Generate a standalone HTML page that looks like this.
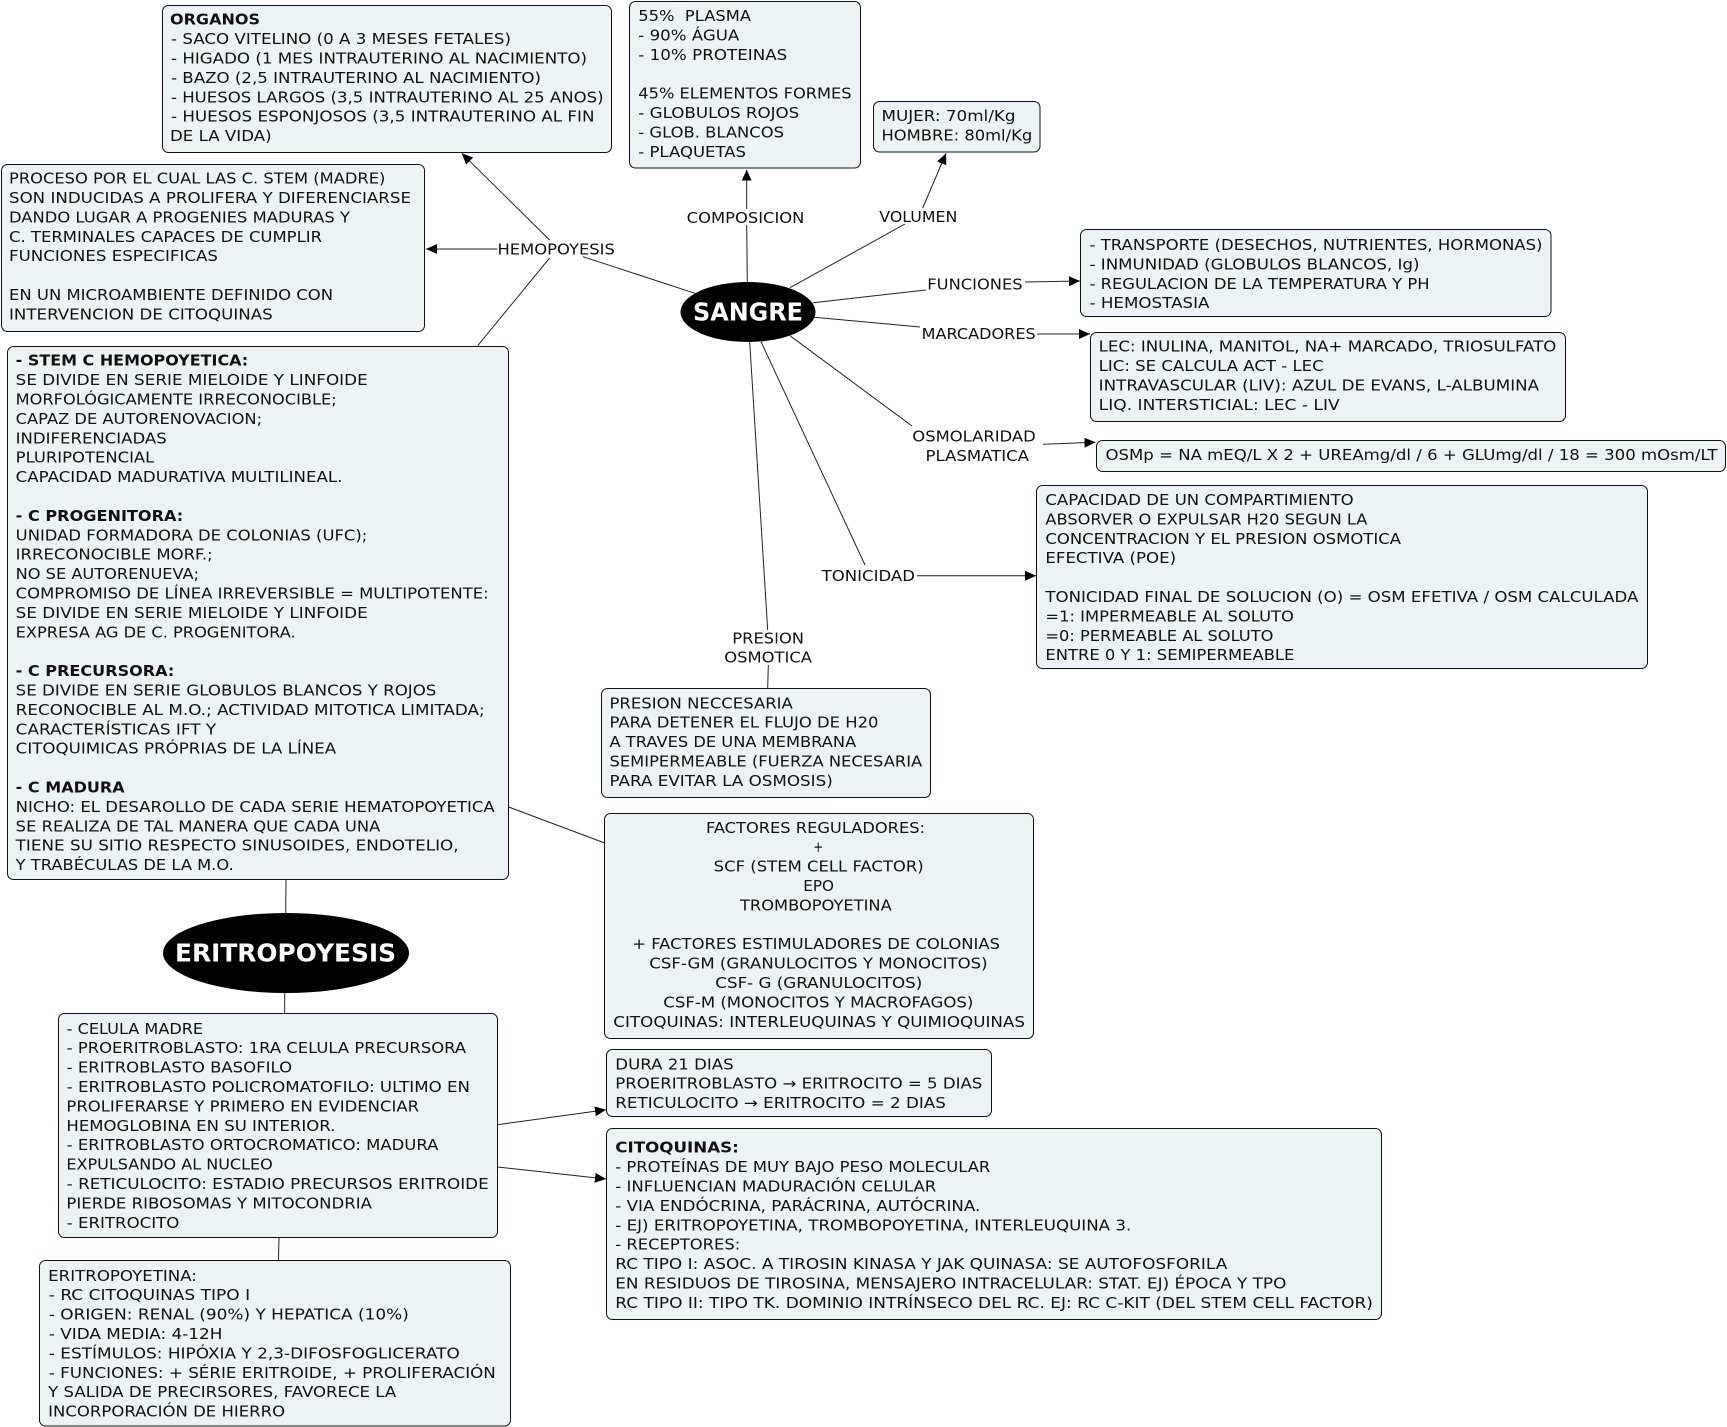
<!DOCTYPE html>
<html><head><meta charset="utf-8"><style>
html,body{margin:0;padding:0;background:#fff;width:1727px;height:1427px;overflow:hidden}
svg{display:block}
text{font-family:"DejaVu Sans",sans-serif;font-size:14.67px;fill:#111;white-space:pre}
.b{font-weight:bold}
.box{fill:#ecf3f5;stroke:#111;stroke-width:1}
.l{stroke:#222;stroke-width:1;fill:none}
.a{stroke:#222;stroke-width:1;fill:none;marker-end:url(#m)}
.t{font-weight:bold;fill:#fff;font-size:25px}
</style></head><body>
<svg width="1727" height="1427" viewBox="0 0 1727 1427" xmlns="http://www.w3.org/2000/svg" lengthAdjust="spacingAndGlyphs">
<defs><marker id="m" markerUnits="userSpaceOnUse" markerWidth="12" markerHeight="12" refX="11" refY="5.5" orient="auto"><path d="M0 0.5L11 5.5L0 10.5z" fill="#000"/></marker></defs>

<line class="l" x1="695" y1="293.3" x2="583" y2="256.7"/>
<line class="a" x1="497.4" y1="249" x2="426" y2="249"/>
<line class="a" x1="549.6" y1="240" x2="461.8" y2="153.3"/>
<line class="l" x1="549.6" y1="258" x2="477.7" y2="345.7"/>
<line class="l" x1="747.3" y1="282" x2="746.7" y2="225"/>
<line class="a" x1="746.7" y1="209" x2="746.7" y2="169.7"/>
<line class="l" x1="790" y1="287.7" x2="905" y2="224"/>
<line class="a" x1="922.7" y1="208" x2="946" y2="153.3"/>
<line class="l" x1="813.3" y1="302.7" x2="926" y2="290"/>
<line class="a" x1="1025" y1="282" x2="1080" y2="281"/>
<line class="l" x1="814.3" y1="317.3" x2="920" y2="327"/>
<line class="a" x1="1037" y1="334" x2="1090" y2="334"/>
<line class="l" x1="790" y1="335.7" x2="912" y2="426"/>
<line class="a" x1="1043" y1="444.3" x2="1095.5" y2="442.3"/>
<line class="l" x1="761" y1="341.7" x2="865" y2="565"/>
<line class="a" x1="917" y1="575.7" x2="1036" y2="575.7"/>
<line class="l" x1="749.7" y1="342" x2="767.7" y2="630"/>
<line class="l" x1="768.3" y1="665" x2="767.7" y2="688"/>
<line class="l" x1="508.7" y1="807" x2="604.7" y2="843"/>
<line class="l" x1="286" y1="880" x2="285.7" y2="913"/>
<line class="l" x1="284.7" y1="993" x2="284.7" y2="1014"/>
<line class="l" x1="279" y1="1238" x2="278.4" y2="1262"/>
<line class="a" x1="497.4" y1="1124.7" x2="606" y2="1109.8"/>
<line class="a" x1="497.4" y1="1167" x2="606" y2="1179"/>

<ellipse cx="748" cy="312" rx="67.5" ry="30" fill="#000"/>
<text class="t" x="693" y="320.7" textLength="110" lengthAdjust="spacingAndGlyphs">SANGRE</text>
<ellipse cx="286" cy="953" rx="123" ry="40" fill="#000"/>
<text class="t" x="175" y="961.7" textLength="221" lengthAdjust="spacingAndGlyphs">ERITROPOYESIS</text>

<rect class="box" x="162.5" y="5.5" width="449" height="147" rx="6"/>
<text class="b" x="170" y="24.7" textLength="90" lengthAdjust="spacingAndGlyphs">ORGANOS</text>
<text x="171" y="44.1" textLength="340" lengthAdjust="spacingAndGlyphs">- SACO VITELINO (0 A 3 MESES FETALES)</text>
<text x="171" y="63.5" textLength="416" lengthAdjust="spacingAndGlyphs">- HIGADO (1 MES INTRAUTERINO AL NACIMIENTO)</text>
<text x="171" y="82.9" textLength="370" lengthAdjust="spacingAndGlyphs">- BAZO (2,5 INTRAUTERINO AL NACIMIENTO)</text>
<text x="171" y="102.3" textLength="432.6" lengthAdjust="spacingAndGlyphs">- HUESOS LARGOS (3,5 INTRAUTERINO AL 25 ANOS)</text>
<text x="171" y="121.7" textLength="423.5" lengthAdjust="spacingAndGlyphs">- HUESOS ESPONJOSOS (3,5 INTRAUTERINO AL FIN</text>
<text x="170" y="141.1" textLength="101.6" lengthAdjust="spacingAndGlyphs">DE LA VIDA)</text>

<rect class="box" x="1.5" y="164.5" width="423" height="167" rx="6"/>
<text x="9" y="183.6" textLength="376.4" lengthAdjust="spacingAndGlyphs">PROCESO POR EL CUAL LAS C. STEM (MADRE)</text>
<text x="9" y="203" textLength="402" lengthAdjust="spacingAndGlyphs">SON INDUCIDAS A PROLIFERA Y DIFERENCIARSE</text>
<text x="9" y="222.4" textLength="341" lengthAdjust="spacingAndGlyphs">DANDO LUGAR A PROGENIES MADURAS Y</text>
<text x="9" y="241.8" textLength="313" lengthAdjust="spacingAndGlyphs">C. TERMINALES CAPACES DE CUMPLIR</text>
<text x="9" y="261.2" textLength="209" lengthAdjust="spacingAndGlyphs">FUNCIONES ESPECIFICAS</text>
<text x="9" y="300" textLength="324" lengthAdjust="spacingAndGlyphs">EN UN MICROAMBIENTE DEFINIDO CON</text>
<text x="9" y="319.4" textLength="263.7" lengthAdjust="spacingAndGlyphs">INTERVENCION DE CITOQUINAS</text>

<rect class="box" x="7.5" y="346.5" width="501" height="533" rx="6"/>
<text class="b" x="15.7" y="365.7" textLength="232.5" lengthAdjust="spacingAndGlyphs">- STEM C HEMOPOYETICA:</text>
<text x="15.7" y="385.1" textLength="352" lengthAdjust="spacingAndGlyphs">SE DIVIDE EN SERIE MIELOIDE Y LINFOIDE</text>
<text x="15.7" y="404.5" textLength="321" lengthAdjust="spacingAndGlyphs">MORFOLÓGICAMENTE IRRECONOCIBLE;</text>
<text x="15.7" y="423.9" textLength="246.4" lengthAdjust="spacingAndGlyphs">CAPAZ DE AUTORENOVACION;</text>
<text x="15.7" y="443.3" textLength="151" lengthAdjust="spacingAndGlyphs">INDIFERENCIADAS</text>
<text x="15.7" y="462.7" textLength="138.6" lengthAdjust="spacingAndGlyphs">PLURIPOTENCIAL</text>
<text x="15.7" y="482.1" textLength="326.7" lengthAdjust="spacingAndGlyphs">CAPACIDAD MADURATIVA MULTILINEAL.</text>
<text class="b" x="15.7" y="520.9" textLength="167.5" lengthAdjust="spacingAndGlyphs">- C PROGENITORA:</text>
<text x="15.7" y="540.3" textLength="351.6" lengthAdjust="spacingAndGlyphs">UNIDAD FORMADORA DE COLONIAS (UFC);</text>
<text x="15.7" y="559.7" textLength="197" lengthAdjust="spacingAndGlyphs">IRRECONOCIBLE MORF.;</text>
<text x="15.7" y="579.1" textLength="183.4" lengthAdjust="spacingAndGlyphs">NO SE AUTORENUEVA;</text>
<text x="15.7" y="598.5" textLength="473" lengthAdjust="spacingAndGlyphs">COMPROMISO DE LÍNEA IRREVERSIBLE = MULTIPOTENTE:</text>
<text x="15.7" y="617.9" textLength="352" lengthAdjust="spacingAndGlyphs">SE DIVIDE EN SERIE MIELOIDE Y LINFOIDE</text>
<text x="15.7" y="637.3" textLength="280" lengthAdjust="spacingAndGlyphs">EXPRESA AG DE C. PROGENITORA.</text>
<text class="b" x="15.7" y="676.1" textLength="158.6" lengthAdjust="spacingAndGlyphs">- C PRECURSORA:</text>
<text x="15.7" y="695.5" textLength="420.7" lengthAdjust="spacingAndGlyphs">SE DIVIDE EN SERIE GLOBULOS BLANCOS Y ROJOS</text>
<text x="15.7" y="714.9" textLength="469" lengthAdjust="spacingAndGlyphs">RECONOCIBLE AL M.O.; ACTIVIDAD MITOTICA LIMITADA;</text>
<text x="15.7" y="734.3" textLength="200.5" lengthAdjust="spacingAndGlyphs">CARACTERÍSTICAS IFT Y</text>
<text x="15.7" y="753.7" textLength="320.5" lengthAdjust="spacingAndGlyphs">CITOQUIMICAS PRÓPRIAS DE LA LÍNEA</text>
<text class="b" x="15.7" y="792.5" textLength="109" lengthAdjust="spacingAndGlyphs">- C MADURA</text>
<text x="15.7" y="811.9" textLength="479" lengthAdjust="spacingAndGlyphs">NICHO: EL DESAROLLO DE CADA SERIE HEMATOPOYETICA</text>
<text x="15.7" y="831.3" textLength="364.6" lengthAdjust="spacingAndGlyphs">SE REALIZA DE TAL MANERA QUE CADA UNA</text>
<text x="15.7" y="850.7" textLength="442.9" lengthAdjust="spacingAndGlyphs">TIENE SU SITIO RESPECTO SINUSOIDES, ENDOTELIO,</text>
<text x="15.7" y="870.1" textLength="218" lengthAdjust="spacingAndGlyphs">Y TRABÉCULAS DE LA M.O.</text>

<rect class="box" x="629.5" y="1.5" width="231" height="166.5" rx="6"/>
<text x="638.3" y="21" textLength="112.7" lengthAdjust="spacingAndGlyphs">55%  PLASMA</text>
<text x="638.3" y="40.4" textLength="101" lengthAdjust="spacingAndGlyphs">- 90% ÁGUA</text>
<text x="638.3" y="59.8" textLength="149" lengthAdjust="spacingAndGlyphs">- 10% PROTEINAS</text>
<text x="638.3" y="98.6" textLength="213.3" lengthAdjust="spacingAndGlyphs">45% ELEMENTOS FORMES</text>
<text x="638.3" y="118" textLength="161" lengthAdjust="spacingAndGlyphs">- GLOBULOS ROJOS</text>
<text x="638.3" y="137.4" textLength="145.7" lengthAdjust="spacingAndGlyphs">- GLOB. BLANCOS</text>
<text x="638.3" y="156.8" textLength="107.7" lengthAdjust="spacingAndGlyphs">- PLAQUETAS</text>

<rect class="box" x="873.5" y="101.5" width="166.5" height="50.5" rx="6"/>
<text x="881.5" y="121.1" textLength="134" lengthAdjust="spacingAndGlyphs">MUJER: 70ml/Kg</text>
<text x="881.5" y="140.5" textLength="150.7" lengthAdjust="spacingAndGlyphs">HOMBRE: 80ml/Kg</text>

<rect class="box" x="1080.5" y="229.5" width="470.5" height="87" rx="6"/>
<text x="1089.5" y="250" textLength="453" lengthAdjust="spacingAndGlyphs">- TRANSPORTE (DESECHOS, NUTRIENTES, HORMONAS)</text>
<text x="1089.5" y="269.4" textLength="330" lengthAdjust="spacingAndGlyphs">- INMUNIDAD (GLOBULOS BLANCOS, Ig)</text>
<text x="1089.5" y="288.8" textLength="340" lengthAdjust="spacingAndGlyphs">- REGULACION DE LA TEMPERATURA Y PH</text>
<text x="1089.5" y="308.2" textLength="120" lengthAdjust="spacingAndGlyphs">- HEMOSTASIA</text>

<rect class="box" x="1090.5" y="332.5" width="475" height="89" rx="6"/>
<text x="1098.7" y="351.7" textLength="457.6" lengthAdjust="spacingAndGlyphs">LEC: INULINA, MANITOL, NA+ MARCADO, TRIOSULFATO</text>
<text x="1098.7" y="371.1" textLength="225" lengthAdjust="spacingAndGlyphs">LIC: SE CALCULA ACT - LEC</text>
<text x="1098.7" y="390.5" textLength="440.4" lengthAdjust="spacingAndGlyphs">INTRAVASCULAR (LIV): AZUL DE EVANS, L-ALBUMINA</text>
<text x="1098.7" y="409.9" textLength="241" lengthAdjust="spacingAndGlyphs">LIQ. INTERSTICIAL: LEC - LIV</text>

<rect class="box" x="1096.5" y="440.5" width="629" height="31" rx="6"/>
<text x="1105.5" y="460" textLength="612" lengthAdjust="spacingAndGlyphs">OSMp = NA mEQ/L X 2 + UREAmg/dl / 6 + GLUmg/dl / 18 = 300 mOsm/LT</text>

<rect class="box" x="1036.5" y="485.5" width="611" height="183" rx="6"/>
<text x="1045.4" y="505" textLength="308.3" lengthAdjust="spacingAndGlyphs">CAPACIDAD DE UN COMPARTIMIENTO</text>
<text x="1045.4" y="524.4" textLength="322" lengthAdjust="spacingAndGlyphs">ABSORVER O EXPULSAR H20 SEGUN LA</text>
<text x="1045.4" y="543.8" textLength="355.6" lengthAdjust="spacingAndGlyphs">CONCENTRACION Y EL PRESION OSMOTICA</text>
<text x="1045.4" y="563.2" textLength="130.7" lengthAdjust="spacingAndGlyphs">EFECTIVA (POE)</text>
<text x="1045.4" y="602" textLength="593" lengthAdjust="spacingAndGlyphs">TONICIDAD FINAL DE SOLUCION (O) = OSM EFETIVA / OSM CALCULADA</text>
<text x="1045.4" y="621.4" textLength="248.5" lengthAdjust="spacingAndGlyphs">=1: IMPERMEABLE AL SOLUTO</text>
<text x="1045.4" y="640.8" textLength="228" lengthAdjust="spacingAndGlyphs">=0: PERMEABLE AL SOLUTO</text>
<text x="1045.4" y="660.2" textLength="249" lengthAdjust="spacingAndGlyphs">ENTRE 0 Y 1: SEMIPERMEABLE</text>

<rect class="box" x="601.5" y="688.5" width="329" height="109" rx="6"/>
<text x="609.5" y="708.3" textLength="183.3" lengthAdjust="spacingAndGlyphs">PRESION NECCESARIA</text>
<text x="609.5" y="727.7" textLength="269" lengthAdjust="spacingAndGlyphs">PARA DETENER EL FLUJO DE H20</text>
<text x="609.5" y="747.1" textLength="246.7" lengthAdjust="spacingAndGlyphs">A TRAVES DE UNA MEMBRANA</text>
<text x="609.5" y="766.5" textLength="312.7" lengthAdjust="spacingAndGlyphs">SEMIPERMEABLE (FUERZA NECESARIA</text>
<text x="609.5" y="785.9" textLength="223.3" lengthAdjust="spacingAndGlyphs">PARA EVITAR LA OSMOSIS)</text>

<rect class="box" x="604.5" y="813.5" width="429" height="225" rx="6"/>
<text x="706" y="832.8" textLength="219" lengthAdjust="spacingAndGlyphs">FACTORES REGULADORES:</text>
<text x="813.3" y="852.2" textLength="10" lengthAdjust="spacingAndGlyphs">+</text>
<text x="713.7" y="871.6" textLength="210" lengthAdjust="spacingAndGlyphs">SCF (STEM CELL FACTOR)</text>
<text x="803.3" y="891" textLength="30.7" lengthAdjust="spacingAndGlyphs">EPO</text>
<text x="740" y="910.4" textLength="151.7" lengthAdjust="spacingAndGlyphs">TROMBOPOYETINA</text>
<text x="632.3" y="949.2" textLength="367.7" lengthAdjust="spacingAndGlyphs">+ FACTORES ESTIMULADORES DE COLONIAS</text>
<text x="649.3" y="968.6" textLength="338.3" lengthAdjust="spacingAndGlyphs">CSF-GM (GRANULOCITOS Y MONOCITOS)</text>
<text x="715.3" y="988" textLength="207" lengthAdjust="spacingAndGlyphs">CSF- G (GRANULOCITOS)</text>
<text x="663.3" y="1007.4" textLength="310" lengthAdjust="spacingAndGlyphs">CSF-M (MONOCITOS Y MACROFAGOS)</text>
<text x="613.3" y="1026.8" textLength="411.7" lengthAdjust="spacingAndGlyphs">CITOQUINAS: INTERLEUQUINAS Y QUIMIOQUINAS</text>

<rect class="box" x="606.5" y="1049.5" width="385" height="67" rx="6"/>
<text x="615.3" y="1069.3" textLength="118.4" lengthAdjust="spacingAndGlyphs">DURA 21 DIAS</text>
<text x="615.3" y="1088.7" textLength="367" lengthAdjust="spacingAndGlyphs">PROERITROBLASTO → ERITROCITO = 5 DIAS</text>
<text x="615.3" y="1108.1" textLength="330.6" lengthAdjust="spacingAndGlyphs">RETICULOCITO → ERITROCITO = 2 DIAS</text>

<rect class="box" x="606.5" y="1128.5" width="775" height="191" rx="6"/>
<text class="b" x="615.3" y="1152.7" textLength="123.5" lengthAdjust="spacingAndGlyphs">CITOQUINAS:</text>
<text x="615.3" y="1172.1" textLength="375" lengthAdjust="spacingAndGlyphs">- PROTEÍNAS DE MUY BAJO PESO MOLECULAR</text>
<text x="615.3" y="1191.5" textLength="321" lengthAdjust="spacingAndGlyphs">- INFLUENCIAN MADURACIÓN CELULAR</text>
<text x="615.3" y="1210.9" textLength="365" lengthAdjust="spacingAndGlyphs">- VIA ENDÓCRINA, PARÁCRINA, AUTÓCRINA.</text>
<text x="615.3" y="1230.3" textLength="516" lengthAdjust="spacingAndGlyphs">- EJ) ERITROPOYETINA, TROMBOPOYETINA, INTERLEUQUINA 3.</text>
<text x="615.3" y="1249.7" textLength="125" lengthAdjust="spacingAndGlyphs">- RECEPTORES:</text>
<text x="615.3" y="1269.1" textLength="612" lengthAdjust="spacingAndGlyphs">RC TIPO I: ASOC. A TIROSIN KINASA Y JAK QUINASA: SE AUTOFOSFORILA</text>
<text x="615.3" y="1288.5" textLength="671" lengthAdjust="spacingAndGlyphs">EN RESIDUOS DE TIROSINA, MENSAJERO INTRACELULAR: STAT. EJ) ÉPOCA Y TPO</text>
<text x="615.3" y="1307.9" textLength="757.6" lengthAdjust="spacingAndGlyphs">RC TIPO II: TIPO TK. DOMINIO INTRÍNSECO DEL RC. EJ: RC C-KIT (DEL STEM CELL FACTOR)</text>

<rect class="box" x="58.5" y="1013.5" width="439" height="224" rx="6"/>
<text x="66.7" y="1033.8" textLength="136.4" lengthAdjust="spacingAndGlyphs">- CELULA MADRE</text>
<text x="66.7" y="1053.2" textLength="399.4" lengthAdjust="spacingAndGlyphs">- PROERITROBLASTO: 1RA CELULA PRECURSORA</text>
<text x="66.7" y="1072.6" textLength="225.4" lengthAdjust="spacingAndGlyphs">- ERITROBLASTO BASOFILO</text>
<text x="66.7" y="1092" textLength="403.3" lengthAdjust="spacingAndGlyphs">- ERITROBLASTO POLICROMATOFILO: ULTIMO EN</text>
<text x="66.4" y="1111.4" textLength="352.7" lengthAdjust="spacingAndGlyphs">PROLIFERARSE Y PRIMERO EN EVIDENCIAR</text>
<text x="66.4" y="1130.8" textLength="269" lengthAdjust="spacingAndGlyphs">HEMOGLOBINA EN SU INTERIOR.</text>
<text x="66.7" y="1150.2" textLength="371.7" lengthAdjust="spacingAndGlyphs">- ERITROBLASTO ORTOCROMATICO: MADURA</text>
<text x="66.4" y="1169.6" textLength="206.4" lengthAdjust="spacingAndGlyphs">EXPULSANDO AL NUCLEO</text>
<text x="66.7" y="1189" textLength="422" lengthAdjust="spacingAndGlyphs">- RETICULOCITO: ESTADIO PRECURSOS ERITROIDE</text>
<text x="66.4" y="1208.4" textLength="305.6" lengthAdjust="spacingAndGlyphs">PIERDE RIBOSOMAS Y MITOCONDRIA</text>
<text x="66.7" y="1227.8" textLength="112.7" lengthAdjust="spacingAndGlyphs">- ERITROCITO</text>

<rect class="box" x="39.5" y="1260.5" width="471" height="165.5" rx="6"/>
<text x="48.2" y="1280.8" textLength="148.7" lengthAdjust="spacingAndGlyphs">ERITROPOYETINA:</text>
<text x="48.8" y="1300.2" textLength="201.3" lengthAdjust="spacingAndGlyphs">- RC CITOQUINAS TIPO I</text>
<text x="48.8" y="1319.6" textLength="360" lengthAdjust="spacingAndGlyphs">- ORIGEN: RENAL (90%) Y HEPATICA (10%)</text>
<text x="48.8" y="1339" textLength="173.6" lengthAdjust="spacingAndGlyphs">- VIDA MEDIA: 4-12H</text>
<text x="48.8" y="1358.4" textLength="411" lengthAdjust="spacingAndGlyphs">- ESTÍMULOS: HIPÓXIA Y 2,3-DIFOSFOGLICERATO</text>
<text x="48.8" y="1377.8" textLength="447" lengthAdjust="spacingAndGlyphs">- FUNCIONES: + SÉRIE ERITROIDE, + PROLIFERACIÓN</text>
<text x="48.2" y="1397.2" textLength="348" lengthAdjust="spacingAndGlyphs">Y SALIDA DE PRECIRSORES, FAVORECE LA</text>
<text x="48.2" y="1416.6" textLength="236.9" lengthAdjust="spacingAndGlyphs">INCORPORACIÓN DE HIERRO</text>

<text x="497.5" y="254.5" textLength="117.4" lengthAdjust="spacingAndGlyphs">HEMOPOYESIS</text>
<text x="686.7" y="223" textLength="117.7" lengthAdjust="spacingAndGlyphs">COMPOSICION</text>
<text x="879.3" y="222" textLength="78" lengthAdjust="spacingAndGlyphs">VOLUMEN</text>
<text x="927.3" y="289.5" textLength="95.3" lengthAdjust="spacingAndGlyphs">FUNCIONES</text>
<text x="921.7" y="339" textLength="114" lengthAdjust="spacingAndGlyphs">MARCADORES</text>
<text x="912.3" y="441.5" textLength="123.4" lengthAdjust="spacingAndGlyphs">OSMOLARIDAD</text>
<text x="925.5" y="460.9" textLength="103.5" lengthAdjust="spacingAndGlyphs">PLASMATICA</text>
<text x="821.7" y="581" textLength="93.3" lengthAdjust="spacingAndGlyphs">TONICIDAD</text>
<text x="732.3" y="643.3" textLength="71.7" lengthAdjust="spacingAndGlyphs">PRESION</text>
<text x="724.3" y="662.7" textLength="87.7" lengthAdjust="spacingAndGlyphs">OSMOTICA</text>
</svg>
</body></html>
